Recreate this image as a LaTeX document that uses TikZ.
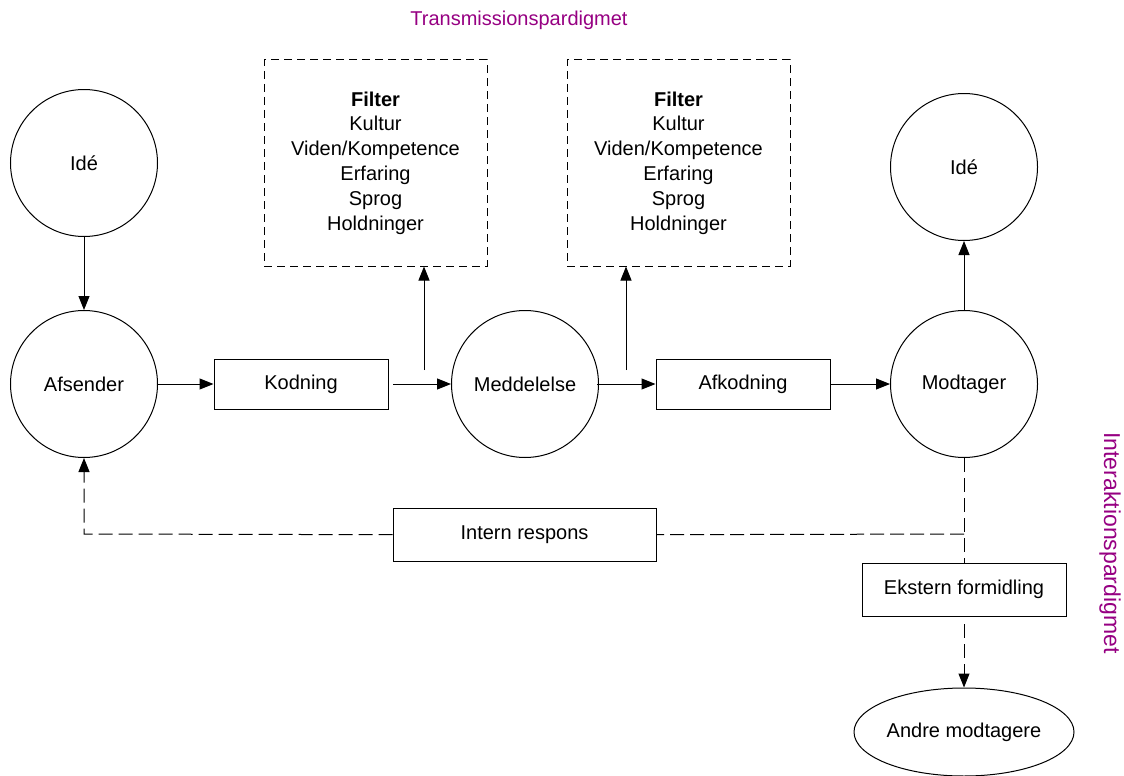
\documentclass[tikz,border=0pt]{standalone}
\usepackage{fontspec}
\setmainfont{Liberation Sans}
\usetikzlibrary{shapes.geometric,arrows.meta}
\definecolor{purp}{RGB}{150,0,130}
\begin{document}
\begin{tikzpicture}[x=1pt,y=-1pt,
  every node/.style={font=\fontsize{20}{24.8}\selectfont},
  circ/.style={draw,circle,minimum size=147pt,inner sep=0pt,line width=1pt},
  rbox/.style={draw,rectangle,minimum width=174pt,minimum height=50pt,inner sep=0pt,line width=1pt},
  fbox/.style={draw,dash pattern=on 8pt off 5pt,rectangle,minimum width=223pt,minimum height=206pt,inner sep=0pt,line width=1pt,align=center},
  arr/.style={-{Triangle[length=14pt,width=11pt]},line width=1pt},
  darr/.style={-{Triangle[length=14pt,width=11pt]},line width=1pt,dash pattern=on 14pt off 6pt},
  dline/.style={line width=1pt,dash pattern=on 14pt off 6pt}]
\useasboundingbox (0,0) rectangle (1124,776);
\node[text=purp] (t1) at (519,20) {Transmissionspardigmet};
\node[text=purp,rotate=-90,font=\fontsize{23}{28}\selectfont] (t2) at (1110,543) {Interaktionspardigmet};
\node[circ] (ide1) at (84,163) {Idé};
\node[circ] (afs) at (84,384) {Afsender};
\node[rbox] (kod) at (301,384) {Kodning};
\node[circ] (med) at (525,384) {Meddelelse};
\node[rbox] (afk) at (743,384) {Afkodning};
\node[circ] (mod) at (964,384) {Modtager};
\node[circ] (ide2) at (964,167) {Idé};
\node[fbox] (f1) at (375.5,163) {\textbf{Filter}\\Kultur\\Viden/Kompetence\\Erfaring\\Sprog\\Holdninger};
\node[fbox] (f2) at (678.5,163) {\textbf{Filter}\\Kultur\\Viden/Kompetence\\Erfaring\\Sprog\\Holdninger};
\node[rbox,minimum width=263pt,minimum height=53pt] (int) at (524.5,535) {Intern respons};
\node[rbox,minimum width=204pt,minimum height=53pt] (eks) at (964,589.5) {Ekstern formidling};
\node[draw,ellipse,minimum width=220pt,minimum height=88pt,inner sep=0pt,line width=1pt] (andre) at (964,732) {Andre modtagere};
\coordinate (k1) at (393,384);
\coordinate (k2) at (424,370);
\coordinate (m1) at (597,384);
\coordinate (m2) at (626,370);
\coordinate (c1) at (964,534);
\coordinate (c2) at (84,534);
\coordinate (e1) at (964,624);
\draw[arr] (ide1) -- (afs);
\draw[arr] (afs) -- (kod);
\draw[arr] (k1) -- (med);
\draw[arr] (k2) -- (k2 |- f1.south);
\draw[arr] (m1) -- (afk);
\draw[arr] (m2) -- (m2 |- f2.south);
\draw[arr] (afk) -- (mod);
\draw[arr] (mod) -- (ide2);
\draw[dline] (mod) -- (eks);
\draw[dline] (c1) -- (int);
\draw[darr] (int) -- (c2) -- (afs);
\draw[darr] (e1) -- (andre);
\end{tikzpicture}
\end{document}
